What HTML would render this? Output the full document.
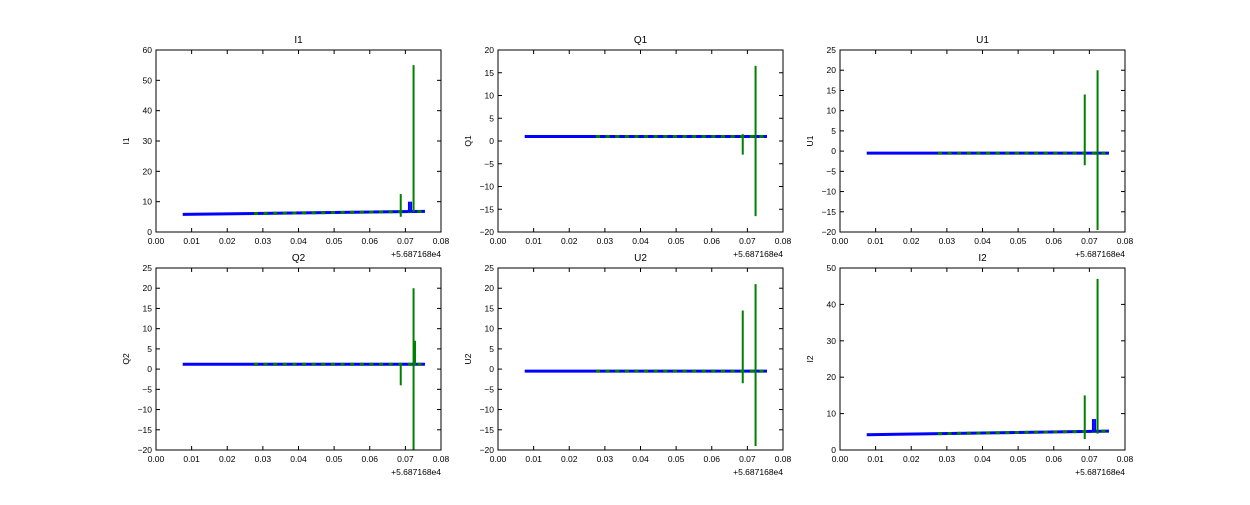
<!DOCTYPE html>
<html><head><meta charset="utf-8"><style>
body{margin:0;background:#fff;font-family:"Liberation Sans",sans-serif;}
</style></head><body>
<svg id="fig" width="1250" height="500" font-family="Liberation Sans, sans-serif"></svg>
<script>
const titles=["I1","Q1","U1","Q2","U2","I2"];
const yMins=[0,-20,-20,-20,-20,0];
const yMaxs=[60,20,25,25,25,50];
const ySteps=[10,5,5,5,5,10];
const baseStart=[5.8,1,-0.5,1.2,-0.5,4.2];
const baseEnd=[6.8,1,-0.5,1.2,-0.5,5.2];
const greenSpikes=[
 [[0.0687,5,12.5],[0.0723,6.5,55]],
 [[0.0687,-3,1.5],[0.0723,-16.5,16.5]],
 [[0.0687,-3.5,14],[0.0723,-19.5,20]],
 [[0.0687,-4,1.5],[0.0723,-20,20],[0.0727,1,7]],
 [[0.0687,-3.5,14.5],[0.0723,-19,21]],
 [[0.0687,3,15],[0.0723,4.5,47]]
];
const blueSpikes=[
 [[0.0710,6.5,10],[0.0716,6.5,10]],[],[],[],[],
 [[0.0710,5,8.5],[0.0716,5,8.5]]
];
const xTicks=[0,0.01,0.02,0.03,0.04,0.05,0.06,0.07,0.08];
const xStart=0.0075,xEnd=0.0755;
const NS="http://www.w3.org/2000/svg";
const svg=document.getElementById('fig');
function mk(tag,at,parent){const e=document.createElementNS(NS,tag);for(const k in at)e.setAttribute(k,at[k]);(parent||svg).appendChild(e);return e;}
const lefts=[156,498,840],tops=[50,268],W=285,H=182;
titles.forEach((t,i)=>{
 const L=lefts[i%3],T=tops[Math.floor(i/3)];
 const g=mk('g',{});
 
 
 const xs=v=>L+v/0.08*W;
 const ys=v=>T+H-(v-yMins[i])/(yMaxs[i]-yMins[i])*H;
 const bl=mk('line',{x1:xs(xStart),x2:xs(xEnd),y1:ys(baseStart[i]),y2:ys(baseEnd[i]),stroke:'#0000ff','stroke-width':3},g);
 
 
 for(let k=0;k<40;k++){const xv=0.0275+k*0.0027;if(xv>xEnd)break;const f=(xv-xStart)/(xEnd-xStart);const yv=baseStart[i]+f*(baseEnd[i]-baseStart[i]);
  mk('line',{x1:xs(xv),x2:xs(xv)+4,y1:ys(yv),y2:ys(yv),stroke:'#008000','stroke-width':3},g);}
 blueSpikes[i].forEach(s=>{const e=mk('line',{x1:xs(s[0]),x2:xs(s[0]),y1:ys(s[1]),y2:ys(s[2]),stroke:'#0000ff','stroke-width':2},g);
  });
 greenSpikes[i].forEach(s=>{const e=mk('line',{x1:xs(s[0]),x2:xs(s[0]),y1:ys(s[1]),y2:ys(s[2]),stroke:'#008000','stroke-width':2},g);
  });
 const fr=mk('rect',{x:L,y:T,width:W,height:H,fill:'none',stroke:'#000','stroke-width':1},g);
 
 xTicks.forEach(v=>{const x=xs(v);
  mk('line',{x1:x,x2:x,y1:T+H,y2:T+H-4,stroke:'#000'},g);mk('line',{x1:x,x2:x,y1:T,y2:T+4,stroke:'#000'},g);
  const tx=mk('text',{x:x,y:T+H+12,'font-size':8.5,'text-anchor':'middle'},g);tx.textContent=v.toFixed(2);
  });
 for(let v=yMins[i];v<=yMaxs[i]+1e-9;v+=ySteps[i]){const y=ys(v);
  mk('line',{x1:L,x2:L+4,y1:y,y2:y,stroke:'#000'},g);mk('line',{x1:L+W,x2:L+W-4,y1:y,y2:y,stroke:'#000'},g);
  const tx=mk('text',{x:L-4,y:y+3,'font-size':8.5,'text-anchor':'end'},g);tx.textContent=String(v).replace('-','\u2212');
  }
 const off=mk('text',{x:L+W,y:T+H+25,'font-size':8.5,'text-anchor':'end'},g);off.textContent='+5.687168e4';
 
 const tt=mk('text',{x:L+W/2,y:T-7,'font-size':10,'text-anchor':'middle'},g);tt.textContent=t;
 
 const yl=mk('text',{x:0,y:0,'font-size':8.5,'text-anchor':'middle',transform:`translate(${L-27},${T+H/2}) rotate(-90)`},g);yl.textContent=t;
 
});
</script>
</body></html>
